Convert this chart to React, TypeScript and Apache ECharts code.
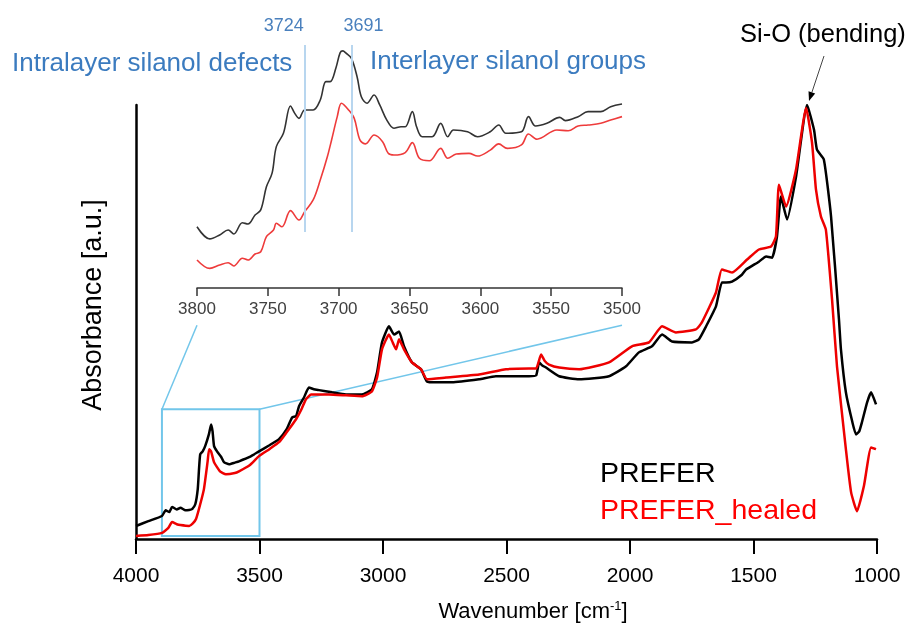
import React, { useEffect, useRef } from "react";
import * as echarts from "echarts";

// ---------- Main spectrum (wavenumber cm-1, absorbance a.u.) ----------
const preferWave = [4000, 3950, 3895, 3880, 3865, 3854, 3835, 3820, 3800, 3785, 3773, 3760, 3750, 3745, 3740, 3730, 3720, 3705, 3696, 3690, 3684, 3672, 3655, 3644, 3623, 3600, 3583, 3540, 3502, 3460, 3421, 3390, 3368, 3352, 3340, 3320, 3300, 3280, 3259, 3206, 3150, 3085, 3045, 3024, 3004, 2976, 2955, 2935, 2915, 2883, 2846, 2822, 2785, 2721, 2611, 2543, 2409, 2380, 2368, 2355, 2340, 2287, 2206, 2085, 2016, 1964, 1911, 1870, 1830, 1749, 1721, 1692, 1652, 1628, 1611, 1587, 1547, 1530, 1478, 1449, 1425, 1405, 1389, 1364, 1328, 1283, 1255, 1243, 1215, 1186, 1154, 1146, 1126, 1100, 1085, 1072, 1061, 1040, 1024, 1004];
const preferAbs = [3.0, 4.1, 5.3, 6.6, 6.2, 7.4, 6.8, 7.2, 6.6, 6.7, 6.9, 8.0, 11.5, 16.0, 19.5, 20.2, 21.4, 24.1, 26.4, 24.8, 21.4, 20.2, 18.9, 17.7, 17.2, 17.6, 17.9, 18.9, 20.2, 21.6, 23.0, 25.3, 28.0, 28.3, 30.6, 32.6, 34.9, 34.5, 34.3, 33.8, 33.3, 33.3, 34.5, 38.4, 45.3, 49.0, 47.1, 47.8, 44.4, 40.7, 39.1, 36.3, 36.1, 36.1, 36.8, 37.5, 37.5, 37.7, 40.7, 40.0, 39.5, 37.5, 36.8, 37.5, 39.8, 43.0, 44.4, 47.1, 45.5, 45.3, 46.0, 49.0, 53.6, 59.1, 59.1, 59.3, 60.9, 62.1, 63.9, 65.1, 64.8, 69.7, 78.9, 73.6, 83.4, 100, 94.3, 89.7, 87.4, 74.3, 50.6, 43.7, 33.8, 27.0, 24.1, 24.8, 26.9, 31.5, 33.8, 31.0];

const healedWave = [4000, 3950, 3895, 3870, 3854, 3835, 3820, 3785, 3770, 3757, 3740, 3725, 3710, 3704, 3696, 3684, 3660, 3636, 3600, 3583, 3540, 3502, 3460, 3421, 3390, 3352, 3330, 3312, 3291, 3259, 3219, 3150, 3085, 3045, 3024, 3004, 2976, 2960, 2947, 2935, 2915, 2883, 2846, 2822, 2745, 2611, 2502, 2409, 2380, 2360, 2345, 2328, 2287, 2206, 2085, 1992, 1923, 1870, 1814, 1733, 1709, 1652, 1628, 1587, 1526, 1478, 1429, 1409, 1397, 1368, 1328, 1287, 1263, 1247, 1227, 1207, 1182, 1162, 1126, 1105, 1081, 1053, 1024, 1004];
const healedAbs = [0.7, 0.9, 1.4, 2.5, 3.9, 3.4, 3.2, 3.0, 3.6, 4.6, 8.0, 11.5, 17.9, 20.7, 20.2, 17.7, 15.6, 14.9, 15.2, 15.6, 17.0, 19.1, 20.7, 22.3, 24.6, 27.6, 29.9, 32.2, 33.3, 33.3, 33.3, 33.1, 32.9, 34.0, 37.2, 43.7, 47.1, 45.2, 43.7, 46.0, 43.7, 40.7, 39.1, 36.8, 37.2, 37.9, 39.1, 39.3, 39.3, 42.5, 41.0, 40.2, 39.5, 39.1, 40.7, 44.4, 45.3, 49.0, 47.6, 48.3, 49.9, 56.8, 62.1, 61.4, 64.4, 66.7, 67.4, 69.7, 81.6, 76.6, 85.1, 99.3, 91.3, 80.5, 74.3, 71.3, 55.2, 39.8, 20.7, 10.8, 6.4, 12.2, 21.1, 20.7];

// ---------- Inset (3800-3500 cm-1) ----------
const insetPreferWave = [3800, 3791, 3784, 3778, 3774, 3768, 3764, 3759, 3755, 3751, 3747, 3744, 3739, 3734, 3731, 3728, 3724, 3718, 3713, 3709, 3706, 3702, 3699, 3697, 3695, 3691, 3687, 3684, 3680, 3675, 3671, 3666, 3661, 3656, 3653, 3648, 3645, 3641, 3634, 3628, 3623, 3619, 3609, 3602, 3593, 3587, 3582, 3571, 3566, 3561, 3553, 3544, 3540, 3531, 3524, 3515, 3508, 3500];
const insetPreferAbs = [24.7, 19.8, 21.4, 23.4, 21.8, 26.3, 25.8, 29.4, 31.5, 40.8, 46.3, 57.0, 62.4, 73.4, 70.4, 68.4, 71.8, 71.8, 75.8, 83.2, 83.2, 88.6, 94.8, 95.6, 94.8, 92.6, 85.2, 77.1, 74.5, 77.8, 73.8, 67.7, 64.4, 65.0, 65.0, 71.1, 65.0, 61.0, 61.0, 66.4, 61.0, 63.7, 63.0, 61.0, 63.0, 65.7, 62.4, 63.0, 69.1, 65.3, 66.4, 68.8, 67.5, 69.1, 71.1, 71.1, 73.1, 74.2];

const insetHealedWave = [3800, 3791, 3784, 3778, 3774, 3768, 3764, 3759, 3755, 3751, 3746, 3744, 3740, 3734, 3728, 3724, 3718, 3713, 3708, 3705, 3701, 3698, 3693, 3689, 3685, 3681, 3675, 3669, 3665, 3661, 3653, 3648, 3643, 3636, 3628, 3623, 3617, 3608, 3602, 3593, 3587, 3581, 3571, 3566, 3560, 3546, 3538, 3531, 3524, 3515, 3508, 3500];
const insetHealedAbs = [11.3, 7.9, 9.3, 10.2, 8.9, 12.0, 11.3, 13.7, 14.6, 20.7, 23.4, 26.1, 24.7, 31.2, 27.4, 30.8, 35.5, 43.5, 52.9, 59.7, 69.1, 74.5, 71.8, 68.4, 59.7, 58.1, 61.7, 59.0, 54.3, 53.6, 54.6, 58.6, 52.3, 51.3, 56.3, 52.3, 54.0, 54.3, 53.2, 55.6, 58.1, 56.3, 57.7, 62.1, 60.0, 63.7, 63.4, 65.3, 65.7, 66.4, 67.7, 69.1];

// Marked silanol bands in the inset
const bandPositions = [3724, 3691];
const bandLabels = ["3724", "3691"];
const bandSpan = [22.6, 98];

// Zoomed window drawn on the main spectrum
const zoomBoxWave = [3895, 3500];
const zoomBoxAbs = [0.7, 29.9];
const insetRange = [3800, 3500];
const connectorInsetAbs = -15;

const mainTicks = [4000, 3500, 3000, 2500, 2000, 1500, 1000];
const insetTicks = [3800, 3750, 3700, 3650, 3600, 3550, 3500];

const zip = (a: number[], b: number[]) => a.map((v, i) => [v, b[i]]);

const FONT = "Liberation Sans, Arial, sans-serif";
const BLUE_TXT = "#3b7bbf";
const BOX = "#72c6ea";

export default function App() {
  const ref = useRef<HTMLDivElement>(null);
  useEffect(() => {
    if (!ref.current) return;
    const chart = echarts.init(ref.current, undefined, { renderer: "svg" });
    const option: any = {
      animation: false,
      textStyle: { fontFamily: FONT },
      grid: [
        { left: 136, right: 35, top: 105, bottom: 96 },
        { left: 197, right: 290, top: 40, bottom: 347 },
      ],
      xAxis: [
        {
          gridIndex: 0, type: "value", inverse: true,
          min: mainTicks[mainTicks.length - 1], max: mainTicks[0], interval: 500,
          axisLine: { lineStyle: { color: "#000", width: 2.5 } },
          axisTick: { length: 15, lineStyle: { color: "#000", width: 2 } },
          axisLabel: { fontSize: 21, color: "#000", margin: 25, fontFamily: FONT, formatter: (v: number) => String(v) },
          splitLine: { show: false },
        },
        {
          gridIndex: 1, type: "value", inverse: true,
          min: insetTicks[insetTicks.length - 1], max: insetTicks[0], interval: 50,
          axisLine: { lineStyle: { color: "#333", width: 1.5 } },
          axisTick: { length: 8, lineStyle: { color: "#333", width: 1.5 } },
          axisLabel: { fontSize: 17, color: "#404040", margin: 12, fontFamily: FONT, formatter: (v: number) => String(v) },
          splitLine: { show: false },
        },
      ],
      yAxis: [
        {
          gridIndex: 0, type: "value", min: 0, max: 100,
          axisLine: { show: true, lineStyle: { color: "#000", width: 2.5 } },
          axisTick: { show: false }, axisLabel: { show: false }, splitLine: { show: false },
        },
        { gridIndex: 1, type: "value", min: 0, max: 100, show: false },
      ],
      legend: {
        data: [
          { name: "PREFER", textStyle: { color: "#000" } },
          { name: "PREFER_healed", textStyle: { color: "#f00" } },
        ],
        orient: "vertical", left: 590, top: 452, icon: "none",
        itemWidth: 0, itemHeight: 28, itemGap: 8, selectedMode: false,
        textStyle: { fontSize: 28.5, fontFamily: FONT },
      },
      series: [
        {
          name: "PREFER", type: "line", xAxisIndex: 0, yAxisIndex: 0,
          data: zip(preferWave, preferAbs), showSymbol: false, smooth: 0.15,
          lineStyle: { color: "#000", width: 2.5 }, itemStyle: { color: "#000" },
          markArea: {
            silent: true,
            itemStyle: { color: "rgba(0,0,0,0)", borderColor: BOX, borderWidth: 2 },
            data: [[{ coord: [zoomBoxWave[0], zoomBoxAbs[0]] }, { coord: [zoomBoxWave[1], zoomBoxAbs[1]] }]],
          },
        },
        {
          name: "PREFER_healed", type: "line", xAxisIndex: 0, yAxisIndex: 0,
          data: zip(healedWave, healedAbs), showSymbol: false, smooth: 0.15,
          lineStyle: { color: "#ee0000", width: 2.5 }, itemStyle: { color: "#ee0000" },
        },
        {
          name: "PREFER", type: "line", xAxisIndex: 1, yAxisIndex: 1,
          data: zip(insetPreferWave, insetPreferAbs), showSymbol: false, smooth: 0.35,
          lineStyle: { color: "#333", width: 1.6 }, itemStyle: { color: "#333" },
          markLine: {
            silent: true, symbol: "none",
            lineStyle: { color: "#b8d6ef", width: 2, type: "solid" },
            label: { show: false },
            data: bandPositions.map((b) => [
              { coord: [b, bandSpan[0]] },
              { coord: [b, bandSpan[1]] },
            ]),
          },
        },
        {
          name: "PREFER_healed", type: "line", xAxisIndex: 1, yAxisIndex: 1,
          data: zip(insetHealedWave, insetHealedAbs), showSymbol: false, smooth: 0.35,
          lineStyle: { color: "#ee3b3b", width: 1.6 }, itemStyle: { color: "#ee3b3b" },
        },
      ],
    };
    chart.setOption(option);

    const m = (p: number[]) => chart.convertToPixel({ xAxisIndex: 0, yAxisIndex: 0 }, p) as number[];
    const ins = (p: number[]) => chart.convertToPixel({ xAxisIndex: 1, yAxisIndex: 1 }, p) as number[];
    const a1 = m([zoomBoxWave[0], zoomBoxAbs[1]]);
    const a2 = m([zoomBoxWave[1], zoomBoxAbs[1]]);
    const b1 = ins([insetRange[0], connectorInsetAbs]);
    const b2 = ins([insetRange[1], connectorInsetAbs]);

    // Band labels sit beside the tops of their lines
    const labelShift = [-21, 12];
    const bandLabelEls = bandPositions.map((b, i) => {
      const top = ins([b, bandSpan[1]]);
      return {
        type: "text", x: top[0] + labelShift[i], y: top[1] - 20,
        style: { text: bandLabels[i], fill: "#4a80bd", fontSize: 18, fontFamily: FONT, align: "center", verticalAlign: "middle" },
      };
    });

    // Arrow for Si-O annotation
    const tip = [809, 101];
    const tail = [824, 56];
    const dx = tip[0] - tail[0], dy = tip[1] - tail[1];
    const len = Math.hypot(dx, dy);
    const ux = dx / len, uy = dy / len;
    const bc = [tip[0] - 9 * ux, tip[1] - 9 * uy];
    const px = -uy, py = ux;

    chart.setOption({
      graphic: [
        { type: "line", silent: true, shape: { x1: a1[0], y1: a1[1], x2: b1[0], y2: b1[1] }, style: { stroke: BOX, lineWidth: 1.5 } },
        { type: "line", silent: true, shape: { x1: a2[0], y1: a2[1], x2: b2[0], y2: b2[1] }, style: { stroke: BOX, lineWidth: 1.5 } },
        ...bandLabelEls,
        { type: "text", x: 12, y: 62, style: { text: "Intralayer silanol defects", fill: BLUE_TXT, fontSize: 26, fontFamily: FONT, align: "left", verticalAlign: "middle" } },
        { type: "text", x: 370, y: 60, style: { text: "Interlayer silanol groups", fill: BLUE_TXT, fontSize: 26, fontFamily: FONT, align: "left", verticalAlign: "middle" } },
        { type: "text", x: 740, y: 33, style: { text: "Si-O (bending)", fill: "#000", fontSize: 25.5, fontFamily: FONT, align: "left", verticalAlign: "middle" } },
        { type: "line", silent: true, shape: { x1: tail[0], y1: tail[1], x2: bc[0], y2: bc[1] }, style: { stroke: "#444", lineWidth: 1 } },
        { type: "polygon", silent: true, shape: { points: [tip, [bc[0] + 3.5 * px, bc[1] + 3.5 * py], [bc[0] - 3.5 * px, bc[1] - 3.5 * py]] }, style: { fill: "#000" } },
        {
          type: "text", x: 533, y: 610,
          style: {
            text: "Wavenumber [cm{sup|-1}]", fill: "#000", fontSize: 22, fontFamily: FONT,
            align: "center", verticalAlign: "middle",
            rich: { sup: { fontSize: 13, verticalAlign: "top", fontFamily: FONT, fill: "#000" } },
          },
        },
        {
          type: "text", x: 92, y: 305, rotation: Math.PI / 2,
          style: { text: "Absorbance [a.u.]", fill: "#000", fontSize: 27, fontFamily: FONT, align: "center", verticalAlign: "middle" },
        },
      ],
    });
    return () => chart.dispose();
  }, []);
  return <div ref={ref} style={{ position: "fixed", left: 0, top: 0, width: 912, height: 635 }} />;
}
